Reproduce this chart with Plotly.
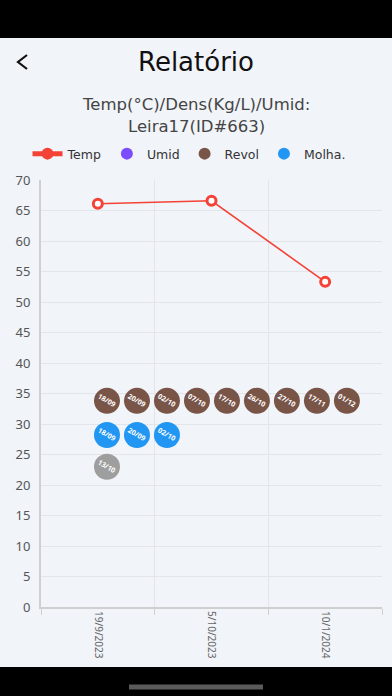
import plotly.graph_objects as go

# ---- data ----
dates = ["19/9/2023", "5/10/2023", "10/1/2024"]
temp = [66.1, 66.6, 53.3]

revol_labels = ["18/09", "20/09", "02/10", "07/10", "17/10", "26/10", "27/10", "17/11", "01/12"]
revol_values = [33.8] * 9
molha_labels = ["18/09", "20/09", "02/10"]
molha_values = [28.2] * 3
other_labels = ["13/10"]
other_values = [23.0]

y_ticks = list(range(0, 75, 5))

BG = "#f1f4f9"
RED = "#f44336"
PURPLE = "#7c4dff"
BROWN = "#795548"
BLUE = "#2196f3"
GREY = "#9e9e9e"

fig = go.Figure()

fig.add_trace(go.Scatter(
    x=dates, y=temp, name="Temp", mode="lines+markers", showlegend=False,
    line=dict(color=RED, width=1.6),
    marker=dict(symbol="circle", size=9, color="white", line=dict(color=RED, width=3)),
))
# legend entry for Temp
fig.add_trace(go.Scatter(
    x=[None], y=[None], name="Temp", mode="lines+markers",
    line=dict(color=RED, width=2),
    marker=dict(symbol="circle", size=7, color=RED),
))
fig.add_trace(go.Scatter(
    x=[None], y=[None], name="Umid", mode="markers",
    marker=dict(color=PURPLE, size=12), xaxis="x2",
))

def bubbles(labels, values, color, name, showlegend=True):
    idx = list(range(len(labels)))
    fig.add_trace(go.Scatter(
        x=idx, y=values, name=name, mode="markers", xaxis="x2",
        showlegend=showlegend,
        marker=dict(color=color, size=26, line=dict(width=0)),
    ))
    for i, (lab, v) in enumerate(zip(labels, values)):
        fig.add_annotation(
            x=i, y=v, xref="x2", yref="y", text="<b>%s</b>" % lab,
            showarrow=False, textangle=30,
            font=dict(color="white", size=7, family="Noto Sans"),
        )

bubbles(revol_labels, revol_values, BROWN, "Revol")
bubbles(molha_labels, molha_values, BLUE, "Molha.")
bubbles(other_labels, other_values, GREY, "Outro", showlegend=False)

# plot area: px x 41..382, y 180..607 in a 392x696 figure
H = 427.0
def py(p):
    return (607 - p) / H
W = 341.0
def px(p):
    return (p - 41) / W

shapes = [
    dict(type="rect", xref="paper", yref="paper", x0=px(0), x1=px(392), y0=py(38), y1=py(0),
         fillcolor="black", line=dict(width=0), layer="above"),
    dict(type="rect", xref="paper", yref="paper", x0=px(0), x1=px(392), y0=py(696), y1=py(667),
         fillcolor="black", line=dict(width=0), layer="above"),
    dict(type="line", xref="paper", yref="paper", x0=px(129), x1=px(263), y0=py(687), y1=py(687),
         line=dict(color="#5a5a5a", width=5), layer="above"),
    # back chevron
    dict(type="path", xref="paper", yref="paper",
         path="M %f %f L %f %f L %f %f" % (px(27), py(55), px(18), py(62), px(27), py(69)),
         line=dict(color="#111", width=2.2)),
]

annotations = [
    dict(text="Relatório", x=px(196), y=py(62), xref="paper", yref="paper", showarrow=False,
         font=dict(size=26, color="#111", family="DejaVu Sans"), xanchor="center", yanchor="middle"),
    dict(text="Temp(°C)/Dens(Kg/L)/Umid:", x=px(196), y=py(104), xref="paper", yref="paper",
         showarrow=False, font=dict(size=16.5, color="#444", family="DejaVu Sans"),
         xanchor="center", yanchor="middle"),
    dict(text="Leira17(ID#663)", x=px(196), y=py(126), xref="paper", yref="paper",
         showarrow=False, font=dict(size=16.5, color="#444", family="DejaVu Sans"),
         xanchor="center", yanchor="middle"),
]

fig.update_layout(
    width=392, height=696,
    margin=dict(l=41, r=10, t=180, b=89),
    paper_bgcolor=BG, plot_bgcolor=BG,
    font=dict(family="Noto Sans", color="#555"),
    showlegend=True,
    legend=dict(orientation="h", x=px(189), xanchor="center", y=py(154), yanchor="middle",
                font=dict(size=12.5, color="#333", family="DejaVu Sans"), itemsizing="constant",
                bgcolor="rgba(0,0,0,0)", itemwidth=30),
    xaxis=dict(type="category", tickson="boundaries", ticks="outside", ticklen=6,
               tickcolor="#cfcfcf", showgrid=True, gridcolor="#e3e5ea", tickangle=90,
               showline=True, linecolor="#cfcfcf", linewidth=2,
               tickfont=dict(size=10, color="#666"), range=[-0.5, 2.5], fixedrange=True),
    xaxis2=dict(overlaying="x", range=[-2.2, 9.17], visible=False, fixedrange=True),
    yaxis=dict(range=[0, 70], tickvals=y_ticks, showgrid=True, gridcolor="#e3e5ea",
               showline=True, linecolor="#cfcfcf", linewidth=2, zeroline=False,
               tickfont=dict(size=13, color="#555"), ticks="", ticklabelstandoff=6,
               fixedrange=True),
    shapes=shapes,
    annotations=list(fig.layout.annotations) + annotations,
)

fig.write_html("out.html", config={"displayModeBar": False},
               post_script="document.body.style.margin='0px';")
